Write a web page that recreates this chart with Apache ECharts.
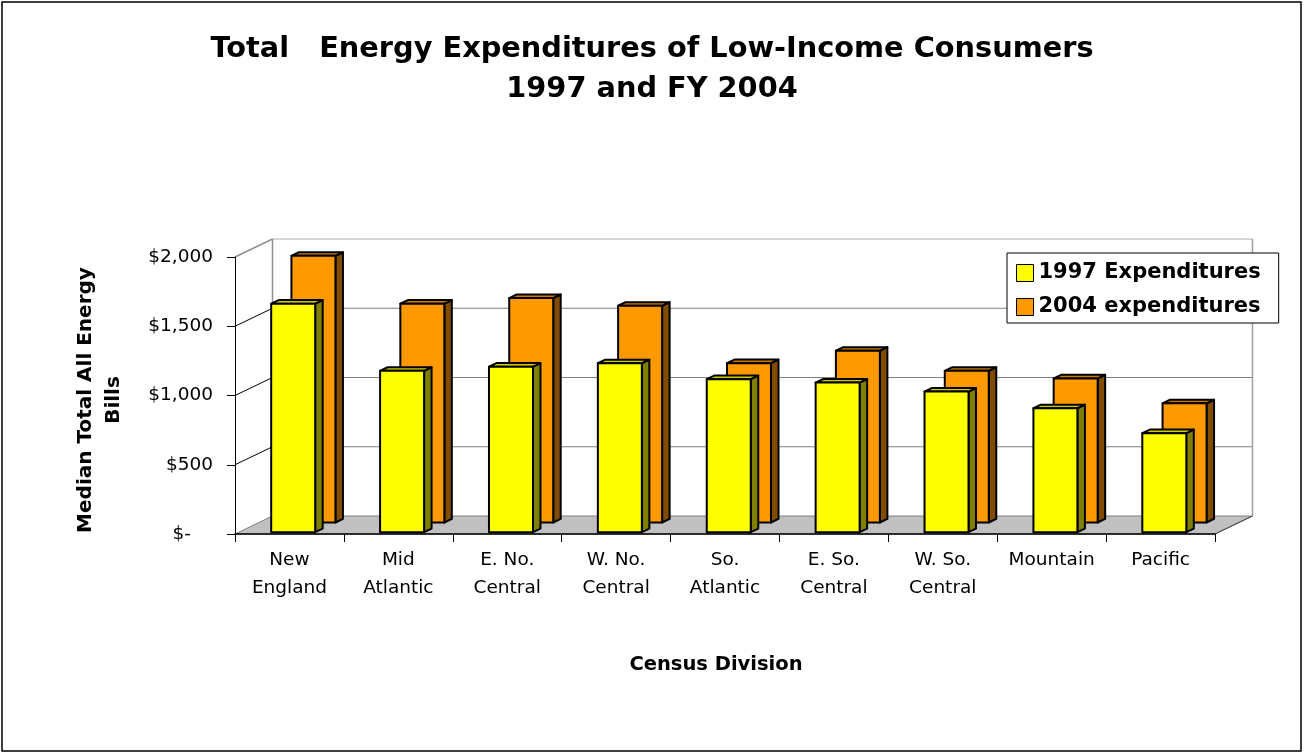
<!DOCTYPE html>
<html>
<head>
<meta charset="utf-8">
<script src="https://cdn.jsdelivr.net/npm/echarts@6/dist/echarts.min.js"></script>
<style>
  html, body { margin: 0; padding: 0; background: #fff; }
  #chart { width: 1304px; height: 754px; }
</style>
</head>
<body>
<div id="chart"></div>
<script>
// Census divisions (x axis) and median total energy bills per division
const divisions = ['New\nEngland', 'Mid\nAtlantic', 'E. No.\nCentral', 'W. No.\nCentral',
                   'So.\nAtlantic', 'E. So.\nCentral', 'W. So.\nCentral', 'Mountain', 'Pacific'];
const exp1997 = [1650, 1165, 1195, 1220, 1105, 1080, 1015, 895, 715];
const exp2004 = [1925, 1580, 1620, 1565, 1150, 1240, 1095, 1040, 860];
const seriesNames = ['1997 Expenditures', '2004 expenditures'];
const yTickValues = [0, 500, 1000, 1500, 2000];
const yTickLabels = ['$-', '$500', '$1,000', '$1,500', '$2,000'];

// oblique projection of the chart depth: full depth shifts right and up
const DEPTH_X = 37.5;
const DEPTH_Y = -18;
const BAR_FRACTION = 0.404;
const FONT = 'DejaVu Sans';

// draws one column as front, top and right-side faces at a given depth row
function columnRenderer(depthFront, depthBack, faces) {
  return function (params, api) {
    const i = api.value(0);
    const v = api.value(1);
    const base = api.coord([i, 0]);
    const top = api.coord([i, v]);
    const half = api.size([1, 0])[0] * BAR_FRACTION / 2;
    const xl = base[0] - half, xr = base[0] + half;
    const fx = depthFront * DEPTH_X, fy = depthFront * DEPTH_Y;
    const bx = depthBack * DEPTH_X, by = depthBack * DEPTH_Y;
    const yb = base[1], yt = top[1];
    const edge = { stroke: '#000', lineWidth: 2, lineJoin: 'round' };
    return {
      type: 'group',
      children: [
        { type: 'polygon',
          shape: { points: [[xr + fx, yt + fy], [xr + bx, yt + by], [xr + bx, yb + by], [xr + fx, yb + fy]] },
          style: Object.assign({ fill: faces.side }, edge) },
        { type: 'polygon',
          shape: { points: [[xl + fx, yt + fy], [xr + fx, yt + fy], [xr + bx, yt + by], [xl + bx, yt + by]] },
          style: Object.assign({ fill: faces.top }, edge) },
        { type: 'rect',
          shape: { x: xl + fx, y: yt + fy, width: xr - xl, height: yb - yt },
          style: Object.assign({ fill: faces.front }, edge) }
      ]
    };
  };
}

// back wall, left side wall, floor and their gridlines
function renderFrame(params, api) {
  const cs = params.coordSys;
  const x0 = cs.x, x1 = cs.x + cs.width;
  const y = v => api.coord([0, v])[1];
  const yMax = yTickValues[yTickValues.length - 1];
  const children = [];
  children.push({
    type: 'polygon',
    shape: { points: [[x0, y(0)], [x1, y(0)], [x1 + DEPTH_X, y(0) + DEPTH_Y], [x0 + DEPTH_X, y(0) + DEPTH_Y]] },
    style: { fill: '#c0c0c0', stroke: '#808080', lineWidth: 1 }
  });
  yTickValues.forEach(t => {
    if (t === 0) return;
    const top = t === yMax;
    children.push({
      type: 'line',
      shape: { x1: x0 + DEPTH_X, y1: y(t) + DEPTH_Y, x2: x1 + DEPTH_X, y2: y(t) + DEPTH_Y },
      style: { stroke: top ? '#c8c8c8' : '#808080', lineWidth: top ? 1.5 : 1.2 }
    });
    children.push({
      type: 'line',
      shape: { x1: x0, y1: y(t), x2: x0 + DEPTH_X, y2: y(t) + DEPTH_Y },
      style: { stroke: top ? '#909090' : '#000', lineWidth: top ? 1.5 : 1 }
    });
  });
  children.push({
    type: 'line',
    shape: { x1: x0 + DEPTH_X, y1: y(yMax) + DEPTH_Y, x2: x0 + DEPTH_X, y2: y(0) + DEPTH_Y },
    style: { stroke: '#909090', lineWidth: 1.5 }
  });
  children.push({
    type: 'line',
    shape: { x1: x1 + DEPTH_X, y1: y(yMax) + DEPTH_Y, x2: x1 + DEPTH_X, y2: y(0) + DEPTH_Y },
    style: { stroke: '#a0a0a0', lineWidth: 1.5 }
  });
  children.push({
    type: 'line',
    shape: { x1: x1, y1: y(0), x2: x1 + DEPTH_X, y2: y(0) + DEPTH_Y },
    style: { stroke: '#404040', lineWidth: 1 }
  });
  return { type: 'group', children: children };
}

const chart = echarts.init(document.getElementById('chart'), null, { renderer: 'canvas' });

chart.setOption({
  animation: false,
  backgroundColor: '#fff',
  title: {
    text: 'Total   Energy Expenditures of Low-Income Consumers\n1997 and FY 2004',
    left: 'center',
    top: 25,
    padding: [5, 0, 5, 10],
    textStyle: { fontFamily: FONT, fontWeight: 'bold', fontSize: 28.8, lineHeight: 40, color: '#000' }
  },
  legend: {
    data: seriesNames,
    orient: 'vertical',
    left: 1007,
    top: 253,
    backgroundColor: '#fff',
    borderColor: '#000',
    borderWidth: 1,
    borderRadius: 0,
    padding: [8, 18, 4, 9],
    itemGap: 10,
    itemWidth: 17,
    itemHeight: 17,
    icon: 'rect',
    selectedMode: false,
    itemStyle: { borderColor: '#000', borderWidth: 1 },
    textStyle: { fontFamily: FONT, fontWeight: 'bold', fontSize: 21, lineHeight: 24, color: '#000' }
  },
  grid: { left: 235, top: 257, width: 980, height: 277, containLabel: false },
  xAxis: {
    type: 'category',
    data: divisions,
    z: 3,
    axisLine: { lineStyle: { color: '#000', width: 1.5 } },
    axisTick: { show: true, length: 8, lineStyle: { color: '#000' } },
    axisLabel: { interval: 0, margin: 12, fontFamily: FONT, fontSize: 18.5, lineHeight: 28, color: '#000' },
    splitLine: { show: false }
  },
  yAxis: {
    type: 'value',
    min: 0,
    max: 2000,
    interval: 500,
    z: 3,
    axisLine: { show: true, lineStyle: { color: '#000', width: 1 } },
    axisTick: { show: true, length: 8, lineStyle: { color: '#000' } },
    axisLabel: {
      margin: 22,
      fontFamily: FONT,
      fontSize: 18.5,
      color: '#000',
      formatter: v => {
        const label = yTickLabels[yTickValues.indexOf(v)];
        return v === 0 ? '{dash|' + label + '}' : label;
      },
      rich: { dash: { fontFamily: FONT, fontSize: 18.5, color: '#000', padding: [0, 22, 0, 0] } }
    },
    splitLine: { show: false }
  },
  graphic: [
    { type: 'rect', shape: { x: 2, y: 2, width: 1299, height: 749 },
      style: { fill: 'none', stroke: '#000', lineWidth: 1.5 }, silent: true, z: 10 },
    { type: 'text', x: 100, y: 400, rotation: Math.PI / 2,
      style: { text: 'Median Total All Energy\nBills', align: 'center', verticalAlign: 'middle',
               font: 'bold 20px "DejaVu Sans"', lineHeight: 28, fill: '#000' } },
    { type: 'text', x: 716, y: 665,
      style: { text: 'Census Division', align: 'center', verticalAlign: 'middle',
               font: 'bold 19.5px "DejaVu Sans"', fill: '#000' } }
  ],
  series: [
    {
      name: 'frame',
      type: 'custom',
      z: 1,
      silent: true,
      renderItem: renderFrame,
      data: [[0, 0]],
      encode: { x: 0, y: 1 }
    },
    {
      name: seriesNames[1],
      type: 'custom',
      z: 2,
      itemStyle: { color: '#FF9900' },
      renderItem: columnRenderer(0.64, 0.84, { front: '#FF9900', side: '#804C00', top: '#CC7A00' }),
      data: exp2004.map((v, i) => [i, v]),
      encode: { x: 0, y: 1 }
    },
    {
      name: seriesNames[0],
      type: 'custom',
      z: 2,
      itemStyle: { color: '#FFFF00' },
      renderItem: columnRenderer(0.1, 0.3, { front: '#FFFF00', side: '#808000', top: '#CCCC00' }),
      data: exp1997.map((v, i) => [i, v]),
      encode: { x: 0, y: 1 }
    }
  ]
});
</script>
</body>
</html>
